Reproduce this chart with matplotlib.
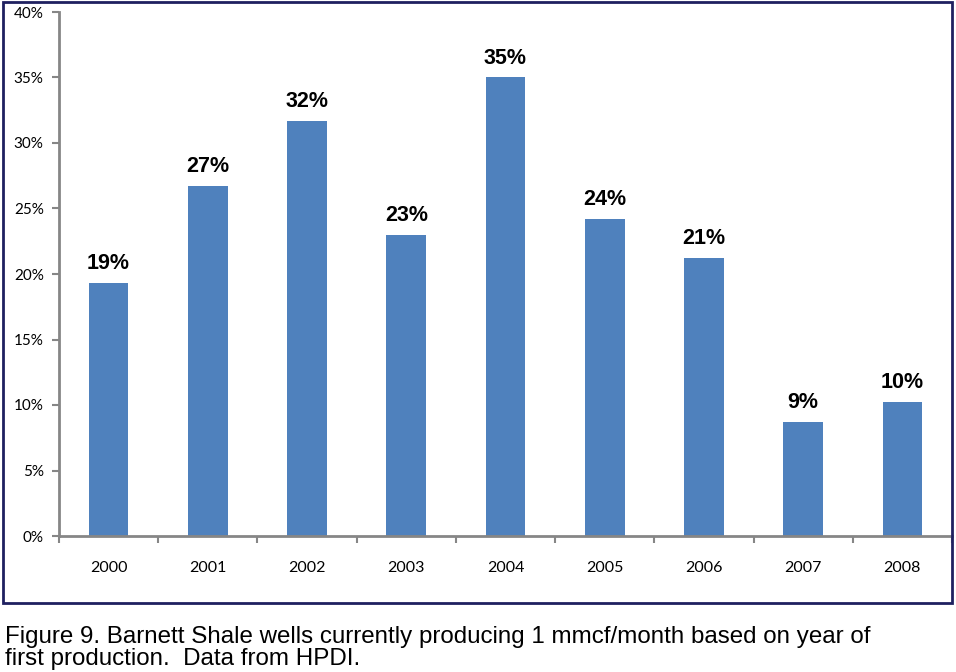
import matplotlib.pyplot as plt
from matplotlib.patches import Rectangle
from matplotlib.ticker import FuncFormatter

# data
years = ['2000', '2001', '2002', '2003', '2004', '2005', '2006', '2007', '2008']
share = [19.3, 26.7, 31.7, 23.0, 35.0, 24.2, 21.2, 8.7, 10.2]
caption = ("Figure 9. Barnett Shale wells currently producing 1 mmcf/month based on year of\n"
           "first production.  Data from HPDI.")

fig = plt.figure(figsize=(9.56, 6.72), dpi=100)
ax = fig.add_axes([59/956, 1-536/672, (952-59)/956, (536-12)/672])

x = range(len(years))
bars = ax.bar(x, share, width=0.4, color='#4F81BD')

for b, v in zip(bars, share):
    ax.annotate(f'{round(v):d}%', (b.get_x() + b.get_width()/2, v),
                xytext=(0, 10), textcoords='offset points', ha='center', va='baseline',
                fontsize=15.5, fontweight='bold', family='Liberation Sans', color='black')

ax.set_xlim(-0.5, len(years) - 0.5)
ax.set_ylim(0, 40)
ax.set_yticks(range(0, 41, 5))
ax.yaxis.set_major_formatter(FuncFormatter(lambda v, p: f'{int(v)}%'))
ax.set_xticks(x)
ax.set_xticklabels(years)
ax.set_xticks([i + 0.5 for i in range(-1, len(years))], minor=True)

for s in ['top', 'right']:
    ax.spines[s].set_visible(False)
for s in ['left', 'bottom']:
    ax.spines[s].set_color('#868686')
    ax.spines[s].set_linewidth(2)

ax.tick_params(axis='y', direction='out', length=5, width=1.5, color='#868686',
               labelsize=11, pad=6)
ax.tick_params(axis='x', which='major', length=0, labelsize=11.5, pad=18)
ax.tick_params(axis='x', which='minor', direction='out', length=5, width=1.5, color='#868686')
for lab in ax.get_xticklabels() + ax.get_yticklabels():
    lab.set_family('Lato')

# outer chart frame
fig.patches.append(Rectangle((3/956, 1-603/672), 949/956, 601/672, transform=fig.transFigure,
                             fill=False, edgecolor='#1F2060', linewidth=2))

fig.text(5/956, 1-665/672, caption, ha='left', va='baseline', fontsize=17.4,
         family='Liberation Sans', linespacing=1.0)

fig.savefig('out.png', dpi=100)
